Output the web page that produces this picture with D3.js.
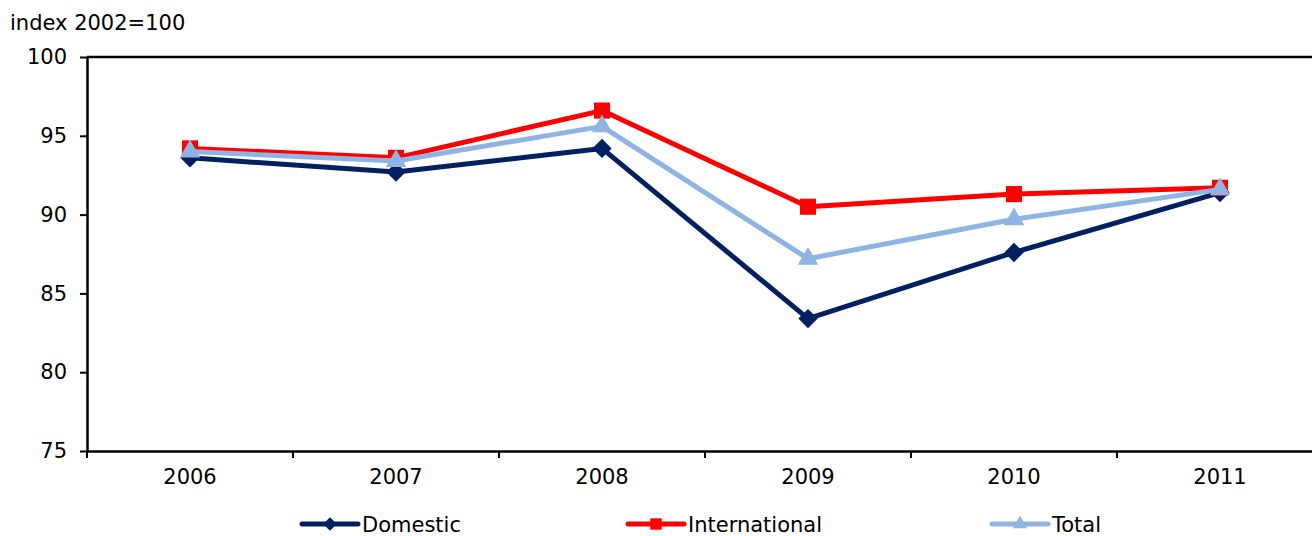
<!DOCTYPE html>
<html>
<head>
<meta charset="utf-8">
<script src="https://cdn.jsdelivr.net/npm/d3@7"></script>
<style>
  html, body { margin: 0; padding: 0; background: #fff; }
  svg { display: block; font-family: "DejaVu Sans", Verdana, sans-serif; }
</style>
</head>
<body>
<svg id="chart" width="1312" height="536"></svg>
<script>
// Passenger traffic index, 2002 = 100
const years = ["2006", "2007", "2008", "2009", "2010", "2011"];
const domestic = [93.6, 92.7, 94.2, 83.4, 87.6, 91.4];
const international = [94.2, 93.6, 96.6, 90.5, 91.3, 91.7];
const total = [94.0, 93.4, 95.6, 87.2, 89.7, 91.6];
const yTicks = [75, 80, 85, 90, 95, 100];
const unitLabel = "index 2002=100";

const series = [
  { name: "Domestic", values: domestic, color: "#002060", symbol: d3.symbolDiamond2 },
  { name: "International", values: international, color: "#FF0000", symbol: d3.symbolSquare2 },
  { name: "Total", values: total, color: "#8DB4E2", symbol: d3.symbolTriangle2 }
];

const fontSize = 21;
const svg = d3.select("#chart");
const plotLeft = 87, plotTop = 57, plotBottom = 451, bandW = 206;
const plotRight = plotLeft + bandW * years.length;

const x = d3.scaleBand().domain(years).range([plotLeft, plotRight]);
const y = d3.scaleLinear().domain([75, 100]).range([plotBottom, plotTop]);

// top frame line
svg.append("line")
  .attr("x1", plotLeft).attr("x2", plotRight)
  .attr("y1", plotTop).attr("y2", plotTop)
  .attr("stroke", "#000").attr("stroke-width", 2.5);

// y axis
const yAxis = svg.append("g")
  .attr("transform", `translate(${plotLeft},0)`)
  .call(d3.axisLeft(y).tickValues(yTicks).tickSize(7).tickPadding(13).tickSizeOuter(0));
yAxis.select(".domain").attr("stroke", "#000").attr("stroke-width", 2.5);
yAxis.selectAll(".tick line").attr("stroke", "#000").attr("stroke-width", 2);
yAxis.selectAll(".tick text").attr("font-size", fontSize).attr("fill", "#000")
  .attr("font-family", "DejaVu Sans, Verdana, sans-serif");

// x axis with ticks at category boundaries
const xAxis = svg.append("g")
  .attr("transform", `translate(0,${plotBottom})`)
  .call(d3.axisBottom(x).tickSize(0).tickPadding(18).tickSizeOuter(0));
xAxis.select(".domain").attr("stroke", "#000").attr("stroke-width", 2.5);
xAxis.selectAll(".tick text").attr("font-size", fontSize).attr("fill", "#000")
  .attr("font-family", "DejaVu Sans, Verdana, sans-serif");
svg.append("g").selectAll("line")
  .data(d3.range(years.length + 1))
  .join("line")
  .attr("x1", i => plotLeft + i * x.step()).attr("x2", i => plotLeft + i * x.step())
  .attr("y1", plotBottom).attr("y2", plotBottom + 7)
  .attr("stroke", "#000").attr("stroke-width", 2);

// unit label
svg.append("text")
  .attr("x", 10).attr("y", 30)
  .attr("font-size", fontSize).attr("fill", "#000")
  .text(unitLabel);

const line = d3.line()
  .x((d, i) => x(years[i]) + x.bandwidth() / 2)
  .y(d => y(d));

const symSize = { "Domestic": 240, "International": 330, "Total": 300 };

series.forEach(s => {
  const g = svg.append("g");
  g.append("path")
    .attr("d", line(s.values))
    .attr("fill", "none")
    .attr("stroke", s.color)
    .attr("stroke-width", 5)
    .attr("stroke-linejoin", "round");
  g.selectAll("path.m")
    .data(s.values)
    .join("path")
    .attr("class", "m")
    .attr("transform", (d, i) => `translate(${x(years[i]) + x.bandwidth() / 2},${y(d)})`)
    .attr("d", d3.symbol().type(s.symbol).size(symSize[s.name]))
    .attr("fill", s.color);
});

// legend
const legendX = [302, 628, 992];
const legendY = 524;
series.forEach((s, i) => {
  const g = svg.append("g").attr("transform", `translate(${legendX[i]},${legendY})`);
  g.append("line")
    .attr("x1", 0).attr("x2", 56)
    .attr("y1", 0).attr("y2", 0)
    .attr("stroke", s.color).attr("stroke-width", 5)
    .attr("stroke-linecap", "round");
  g.append("path")
    .attr("transform", "translate(28,0)")
    .attr("d", d3.symbol().type(s.symbol).size(symSize[s.name] * 0.5))
    .attr("fill", s.color);
  g.append("text")
    .attr("x", 60).attr("y", 8)
    .attr("font-size", fontSize).attr("fill", "#000")
    .text(s.name);
});
</script>
</body>
</html>
